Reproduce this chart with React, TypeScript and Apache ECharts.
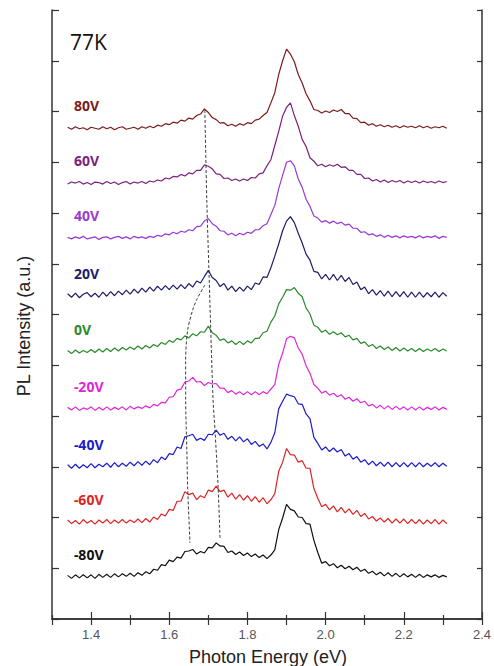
import React, { useEffect, useRef } from "react";
import * as echarts from "echarts";

const energies = [
  1.34, 1.35, 1.36, 1.37, 1.38, 1.39, 1.4, 1.41, 1.42, 1.43,
  1.44, 1.45, 1.46, 1.47, 1.48, 1.49, 1.5, 1.51, 1.52, 1.53,
  1.54, 1.55, 1.56, 1.57, 1.58, 1.59, 1.6, 1.61, 1.62, 1.63,
  1.64, 1.65, 1.66, 1.67, 1.68, 1.69, 1.7, 1.71, 1.72, 1.73,
  1.74, 1.75, 1.76, 1.77, 1.78, 1.79, 1.8, 1.81, 1.82, 1.83,
  1.84, 1.85, 1.86, 1.87, 1.88, 1.89, 1.9, 1.91, 1.92, 1.93,
  1.94, 1.95, 1.96, 1.97, 1.98, 1.99, 2.0, 2.01, 2.02, 2.03,
  2.04, 2.05, 2.06, 2.07, 2.08, 2.09, 2.1, 2.11, 2.12, 2.13,
  2.14, 2.15, 2.16, 2.17, 2.18, 2.19, 2.2, 2.21, 2.22, 2.23,
  2.24, 2.25, 2.26, 2.27, 2.28, 2.29, 2.3, 2.31,
];

const s80 = [
  0.02, -0.02, 0.03, -0.01, 0.01, -0.03, 0.02, 0.0, -0.02, 0.03,
  -0.01, 0.02, -0.03, 0.01, 0.03, -0.02, 0.0, 0.02, -0.02, 0.03,
  0.0, 0.04, 0.01, 0.06, 0.04, 0.09, 0.07, 0.12, 0.1, 0.16,
  0.14, 0.2, 0.18, 0.25, 0.28, 0.38, 0.31, 0.21, 0.17, 0.1,
  0.11, 0.05, 0.08, 0.04, 0.09, 0.06, 0.11, 0.09, 0.16, 0.18,
  0.25, 0.31, 0.5, 0.7, 1.06, 1.33, 1.56, 1.46, 1.31, 1.06,
  0.89, 0.68, 0.54, 0.37, 0.35, 0.3, 0.34, 0.31, 0.36, 0.33,
  0.37, 0.29, 0.29, 0.2, 0.19, 0.11, 0.12, 0.06, 0.09, 0.04,
  0.07, 0.03, 0.06, 0.02, 0.05, 0.01, 0.05, 0.02, 0.04, 0.01,
  0.05, 0.01, 0.04, 0.0, 0.03, 0.01, 0.04, 0.0,
];
const s60 = [
  -0.02, 0.02, 0.0, 0.03, -0.02, 0.01, -0.03, 0.02, 0.01, -0.02,
  0.03, -0.01, 0.02, -0.03, 0.01, 0.03, -0.02, 0.02, 0.0, 0.03,
  -0.01, 0.04, 0.02, 0.06, 0.04, 0.1, 0.08, 0.13, 0.12, 0.17,
  0.14, 0.2, 0.18, 0.25, 0.25, 0.36, 0.33, 0.28, 0.18, 0.17,
  0.09, 0.1, 0.05, 0.08, 0.04, 0.08, 0.05, 0.11, 0.1, 0.18,
  0.2, 0.34, 0.46, 0.74, 1.02, 1.32, 1.49, 1.58, 1.33, 1.12,
  0.86, 0.72, 0.5, 0.43, 0.34, 0.37, 0.32, 0.36, 0.33, 0.37,
  0.31, 0.32, 0.25, 0.25, 0.17, 0.17, 0.09, 0.1, 0.04, 0.07,
  0.02, 0.06, 0.01, 0.05, 0.02, 0.05, 0.0, 0.04, 0.01, 0.04,
  0.0, 0.04, 0.01, 0.03, 0.0, 0.04, 0.01, 0.03,
];
const s40 = [
  0.01, -0.02, 0.02, -0.01, 0.03, -0.02, 0.0, 0.02, -0.03, 0.01,
  0.02, -0.02, 0.01, 0.03, -0.01, 0.02, -0.02, 0.03, 0.0, 0.02,
  -0.01, 0.03, 0.01, 0.05, 0.03, 0.08, 0.06, 0.11, 0.08, 0.13,
  0.11, 0.16, 0.14, 0.22, 0.23, 0.33, 0.38, 0.28, 0.23, 0.14,
  0.13, 0.06, 0.09, 0.04, 0.09, 0.06, 0.11, 0.09, 0.16, 0.16,
  0.24, 0.28, 0.46, 0.64, 0.97, 1.23, 1.49, 1.52, 1.42, 1.16,
  1.0, 0.76, 0.62, 0.43, 0.39, 0.31, 0.34, 0.29, 0.33, 0.28,
  0.31, 0.25, 0.27, 0.19, 0.19, 0.11, 0.12, 0.06, 0.08, 0.03,
  0.06, 0.01, 0.05, 0.01, 0.04, 0.0, 0.04, 0.01, 0.03, 0.0,
  0.04, 0.0, 0.03, 0.01, 0.04, -0.01, 0.03, 0.01,
];
const s20 = [
  0.04, -0.03, 0.05, -0.04, 0.03, 0.06, -0.02, 0.05, -0.03, 0.07,
  -0.01, 0.08, 0.0, 0.09, 0.02, 0.11, 0.03, 0.13, 0.05, 0.15,
  0.07, 0.17, 0.09, 0.19, 0.11, 0.2, 0.12, 0.21, 0.13, 0.22,
  0.14, 0.24, 0.17, 0.29, 0.25, 0.38, 0.5, 0.36, 0.3, 0.18,
  0.24, 0.11, 0.19, 0.08, 0.17, 0.09, 0.19, 0.12, 0.25, 0.22,
  0.37, 0.36, 0.55, 0.78, 1.02, 1.28, 1.47, 1.56, 1.44, 1.23,
  1.04, 0.82, 0.7, 0.48, 0.46, 0.33, 0.42, 0.31, 0.42, 0.3,
  0.4, 0.28, 0.36, 0.22, 0.27, 0.12, 0.17, 0.04, 0.12, 0.01,
  0.1, -0.01, 0.09, -0.02, 0.08, -0.02, 0.08, -0.03, 0.07, -0.03,
  0.07, -0.03, 0.06, -0.02, 0.07, -0.03, 0.06, -0.01,
];
const s0 = [
  0.03, -0.03, 0.04, -0.02, 0.03, -0.01, 0.05, -0.01, 0.06, 0.0,
  0.07, 0.01, 0.08, 0.02, 0.09, 0.04, 0.1, 0.05, 0.12, 0.06,
  0.13, 0.08, 0.15, 0.11, 0.19, 0.15, 0.23, 0.19, 0.27, 0.24,
  0.32, 0.28, 0.36, 0.32, 0.4, 0.39, 0.51, 0.38, 0.33, 0.23,
  0.26, 0.18, 0.22, 0.15, 0.21, 0.15, 0.22, 0.18, 0.27, 0.27,
  0.38, 0.41, 0.59, 0.71, 0.95, 1.08, 1.23, 1.22, 1.27, 1.16,
  1.09, 0.87, 0.75, 0.53, 0.49, 0.39, 0.43, 0.35, 0.4, 0.34,
  0.38, 0.3, 0.33, 0.24, 0.27, 0.17, 0.2, 0.11, 0.15, 0.07,
  0.12, 0.05, 0.1, 0.03, 0.09, 0.02, 0.08, 0.02, 0.07, 0.01,
  0.07, 0.01, 0.06, 0.02, 0.07, 0.01, 0.06, 0.02,
];
const sm20 = [
  0.03, -0.02, 0.04, -0.03, 0.02, -0.01, 0.04, -0.03, 0.03, -0.02,
  0.04, -0.02, 0.03, -0.01, 0.04, -0.02, 0.05, 0.0, 0.04, 0.01,
  0.06, 0.02, 0.09, 0.06, 0.13, 0.12, 0.23, 0.24, 0.37, 0.39,
  0.53, 0.55, 0.62, 0.53, 0.54, 0.46, 0.52, 0.49, 0.5, 0.41,
  0.41, 0.32, 0.36, 0.29, 0.34, 0.28, 0.34, 0.28, 0.34, 0.28,
  0.34, 0.3, 0.39, 0.48, 0.88, 1.1, 1.38, 1.43, 1.4, 1.2,
  1.08, 0.85, 0.7, 0.48, 0.41, 0.31, 0.35, 0.27, 0.31, 0.24,
  0.28, 0.19, 0.23, 0.15, 0.2, 0.12, 0.15, 0.06, 0.09, 0.02,
  0.07, 0.0, 0.06, -0.01, 0.05, -0.01, 0.04, -0.02, 0.04, -0.02,
  0.04, -0.02, 0.03, -0.01, 0.04, -0.02, 0.03, -0.01,
];
const sm40 = [
  0.04, -0.03, 0.05, -0.03, 0.04, -0.02, 0.06, -0.02, 0.05, 0.0,
  0.07, -0.01, 0.08, 0.0, 0.07, 0.01, 0.09, 0.02, 0.1, 0.03,
  0.11, 0.04, 0.14, 0.08, 0.19, 0.14, 0.26, 0.24, 0.39, 0.36,
  0.59, 0.61, 0.64, 0.52, 0.56, 0.52, 0.64, 0.63, 0.72, 0.62,
  0.66, 0.54, 0.6, 0.51, 0.59, 0.49, 0.55, 0.44, 0.5, 0.4,
  0.45, 0.35, 0.48, 0.67, 1.14, 1.29, 1.43, 1.4, 1.38, 1.24,
  1.23, 1.04, 0.95, 0.58, 0.46, 0.33, 0.39, 0.3, 0.37, 0.29,
  0.34, 0.21, 0.26, 0.15, 0.2, 0.09, 0.14, 0.04, 0.11, 0.02,
  0.09, 0.01, 0.09, 0.0, 0.08, 0.0, 0.08, 0.0, 0.08, 0.0,
  0.08, 0.0, 0.07, 0.01, 0.08, 0.0, 0.07, 0.01,
];
const sm60 = [
  0.04, -0.03, 0.03, -0.04, 0.05, -0.02, 0.03, -0.04, 0.04, -0.02,
  0.05, -0.03, 0.04, -0.02, 0.05, -0.02, 0.04, -0.01, 0.06, -0.01,
  0.07, 0.0, 0.1, 0.05, 0.16, 0.12, 0.25, 0.23, 0.41, 0.41,
  0.6, 0.54, 0.57, 0.44, 0.52, 0.48, 0.63, 0.6, 0.71, 0.6,
  0.63, 0.49, 0.57, 0.45, 0.54, 0.43, 0.52, 0.41, 0.5, 0.39,
  0.48, 0.36, 0.44, 0.56, 1.0, 1.18, 1.45, 1.33, 1.32, 1.18,
  1.21, 1.06, 1.06, 0.66, 0.47, 0.3, 0.35, 0.24, 0.32, 0.2,
  0.29, 0.18, 0.26, 0.15, 0.23, 0.11, 0.17, 0.06, 0.11, 0.02,
  0.08, 0.0, 0.07, -0.02, 0.06, -0.02, 0.06, -0.03, 0.05, -0.03,
  0.05, -0.04, 0.04, -0.03, 0.05, -0.04, 0.04, -0.03,
];
const sm80 = [
  0.03, -0.03, 0.04, -0.02, 0.04, -0.02, 0.04, -0.03, 0.05, -0.01,
  0.05, -0.01, 0.06, 0.0, 0.06, 0.01, 0.07, 0.01, 0.08, 0.03,
  0.1, 0.06, 0.15, 0.13, 0.24, 0.22, 0.33, 0.3, 0.39, 0.37,
  0.5, 0.51, 0.54, 0.45, 0.5, 0.47, 0.58, 0.57, 0.67, 0.61,
  0.6, 0.48, 0.51, 0.44, 0.49, 0.42, 0.47, 0.4, 0.45, 0.38,
  0.43, 0.36, 0.43, 0.53, 0.93, 1.16, 1.43, 1.33, 1.3, 1.18,
  1.17, 1.05, 1.04, 0.72, 0.48, 0.27, 0.3, 0.22, 0.26, 0.18,
  0.23, 0.16, 0.21, 0.14, 0.19, 0.11, 0.15, 0.07, 0.11, 0.04,
  0.09, 0.02, 0.08, 0.01, 0.07, 0.0, 0.06, 0.0, 0.05, -0.01,
  0.05, -0.01, 0.04, 0.0, 0.04, -0.01, 0.03, 0.0,
];

const voltages = ["80V", "60V", "40V", "20V", "0V", "-20V", "-40V", "-60V", "-80V"];
const spectra = [s80, s60, s40, s20, s0, sm20, sm40, sm60, sm80];
const offsets = [9.67, 8.59, 7.51, 6.37, 5.26, 4.14, 3.0, 1.91, 0.83];
const colors = ["#7a1c1c", "#7b1f7b", "#9a3ad0", "#1c1c68", "#2a8a2a", "#de28d8", "#1c1ccc", "#de2424", "#111111"];
const labelEnergy = 1.356;
const labelLift = 0.44;

const guideRightE = [1.691, 1.696, 1.702, 1.712, 1.717, 1.725, 1.73];
const guideRightY = [10.03, 8.26, 6.74, 4.32, 3.72, 2.6, 1.56];
const guideLeftE = [1.691, 1.67, 1.66, 1.647, 1.642, 1.642, 1.645, 1.647, 1.653];
const guideLeftY = [6.58, 6.29, 6.09, 5.69, 5.1, 4.32, 3.33, 2.6, 1.5];

const majorTicks = [1.4, 1.6, 1.8, 2.0, 2.2, 2.4];
const minorTicks = [1.3, 1.5, 1.7, 1.9, 2.1, 2.3];
const allTicks = [1.3, 1.4, 1.5, 1.6, 1.7, 1.8, 1.9, 2.0, 2.1, 2.2, 2.3, 2.4];

const X_MIN = 1.3;
const X_MAX = 2.4;
const Y_MIN = 0;
const Y_MAX = 12;

export default function App() {
  const ref = useRef<HTMLDivElement>(null);
  useEffect(() => {
    if (!ref.current) return;
    const chart = echarts.init(ref.current, null, { renderer: "svg" });
    const axisLine = { show: true, lineStyle: { color: "#333", width: 1.5 } };
    const font = "'Liberation Sans', Arial, sans-serif";

    const curveSeries = spectra.map((s, k) => ({
      type: "line",
      xAxisIndex: 0,
      yAxisIndex: 0,
      data: energies.map((e, i) => [e, offsets[k] + s[i]]),
      showSymbol: false,
      symbol: "none",
      lineStyle: { color: colors[k], width: 1.2 },
      z: 2,
    }));

    const labelSeries = {
      type: "scatter",
      xAxisIndex: 0,
      yAxisIndex: 0,
      symbol: "circle",
      symbolSize: 0,
      silent: true,
      data: voltages.map((v, k) => ({
        value: [labelEnergy, offsets[k] + labelLift],
        itemStyle: { color: colors[k], opacity: 1 },
        label: {
          show: true,
          position: "right",
          distance: 0,
          formatter: v,
          color: colors[k],
          opacity: 1,
          fontWeight: "bold",
          fontSize: 14,
          fontFamily: "'Noto Sans', 'DejaVu Sans', sans-serif",
        },
      })),
      z: 5,
    };

    const guide = (es: number[], ys: number[]) => ({
      type: "line",
      xAxisIndex: 0,
      yAxisIndex: 0,
      data: es.map((e, i) => [e, ys[i]]),
      symbol: "none",
      smooth: 0.3,
      lineStyle: { color: "#3a3a3a", width: 1, type: [3, 2] },
      z: 4,
    });

    chart.setOption({
      animation: false,
      backgroundColor: "#ffffff",
      grid: [
        { left: 52, right: 12, top: 10, bottom: 47 },
        { left: 52, right: 12, top: 10, bottom: 47 },
      ],
      xAxis: [
        {
          type: "value",
          gridIndex: 0,
          position: "bottom",
          min: X_MIN,
          max: X_MAX,
          axisLine,
          axisTick: { show: true, inside: true, length: 7, customValues: majorTicks, lineStyle: { color: "#333", width: 1.2 } },
          axisLabel: {
            customValues: majorTicks,
            formatter: (v: number) => v.toFixed(1),
            fontSize: 13,
            color: "#555",
            margin: 9,
            fontFamily: font,
          },
          splitLine: { show: false },
        },
        {
          type: "value",
          gridIndex: 0,
          position: "top",
          min: X_MIN,
          max: X_MAX,
          axisLine,
          axisTick: { show: true, inside: true, length: 6, customValues: allTicks, lineStyle: { color: "#333", width: 1.2 } },
          axisLabel: { show: false },
          splitLine: { show: false },
        },
        {
          type: "value",
          gridIndex: 1,
          position: "bottom",
          min: X_MIN,
          max: X_MAX,
          axisLine: { show: false },
          axisTick: { show: true, inside: true, length: 4, customValues: minorTicks, lineStyle: { color: "#333", width: 1.2 } },
          axisLabel: { show: false },
          splitLine: { show: false },
        },
      ],
      yAxis: [
        {
          type: "value",
          gridIndex: 0,
          position: "left",
          min: Y_MIN,
          max: Y_MAX,
          interval: 1,
          axisLine,
          axisTick: { show: true, inside: true, length: 7, lineStyle: { color: "#333", width: 1.2 } },
          axisLabel: { show: false },
          splitLine: { show: false },
        },
        {
          type: "value",
          gridIndex: 0,
          position: "right",
          min: Y_MIN,
          max: Y_MAX,
          interval: 1,
          axisLine,
          axisTick: { show: true, inside: true, length: 5, lineStyle: { color: "#333", width: 1.2 } },
          axisLabel: { show: false },
          splitLine: { show: false },
        },
        {
          type: "value",
          gridIndex: 1,
          min: Y_MIN,
          max: Y_MAX,
          show: false,
        },
      ],
      series: [...curveSeries, guide(guideRightE, guideRightY), guide(guideLeftE, guideLeftY), labelSeries],
      graphic: [
        {
          type: "text",
          x: 70,
          y: 42,
          style: {
            text: "77K",
            fontSize: 21,
            fontFamily: "'Open Sans', sans-serif",
            fill: "#111",
            textAlign: "left",
            textVerticalAlign: "middle",
          },
        },
        {
          type: "text",
          x: 24,
          y: 326,
          rotation: Math.PI / 2,
          style: {
            text: "PL Intensity (a.u.)",
            fontSize: 18,
            fontFamily: font,
            fill: "#222",
            textAlign: "center",
            textVerticalAlign: "middle",
          },
        },
        {
          type: "text",
          x: 268,
          y: 657,
          style: {
            text: "Photon Energy (eV)",
            fontSize: 18,
            fontFamily: font,
            fill: "#222",
            textAlign: "center",
            textVerticalAlign: "middle",
          },
        },
      ],
    });
    return () => chart.dispose();
  }, []);

  return (
    <div
      ref={ref}
      style={{ position: "fixed", left: 0, top: 0, width: 494, height: 666, background: "#fff" }}
    />
  );
}
